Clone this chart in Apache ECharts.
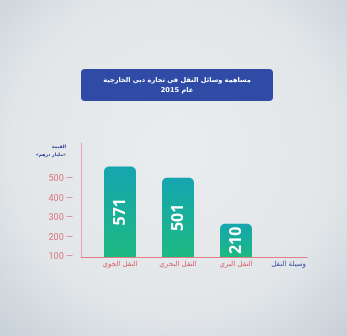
<!DOCTYPE html>
<html>
<head>
<meta charset="utf-8">
<script src="https://cdn.jsdelivr.net/npm/echarts@6/dist/echarts.min.js"></script>
<style>
  html, body { margin: 0; padding: 0; }
  #chart { width: 347px; height: 336px; }
</style>
</head>
<body>
<div id="chart"></div>
<script>
// Dubai foreign trade by mode of transport, 2015 (billion AED)
const categories = ['النقل الجوي', 'النقل البحري', 'النقل البري'];
const values = [571, 501, 210];
const titleLines = ['مساهمة وسائل النقل في تجارة دبي الخارجية', 'عام 2015'];
const yNameLines = ['القيمة', '«مليار درهم»'];
const xName = 'وسيلة النقل';

const AR_FONT = '"DejaVu Sans", sans-serif';
const RED = '#e07e84';
const LABEL_RED = '#d65c68';
const NAVY = '#2d3f8f';

const chart = echarts.init(document.getElementById('chart'), null, { renderer: 'canvas' });

chart.setOption({
  animation: false,
  backgroundColor: {
    type: 'radial', x: 0.5, y: 0.45, r: 0.8,
    colorStops: [
      { offset: 0, color: '#eaedef' },
      { offset: 0.6, color: '#e2e6e9' },
      { offset: 1, color: '#c3ccd4' }
    ]
  },
  graphic: [
    {
      type: 'rect',
      shape: { x: 81, y: 69, width: 192, height: 32, r: 4 },
      style: { fill: '#2f4ba6' }
    },
    {
      type: 'text',
      x: 177, y: 85.5,
      style: {
        text: titleLines.join('\n'),
        fill: '#ffffff',
        font: 'bold 6.6px ' + AR_FONT,
        lineHeight: 10,
        align: 'center',
        verticalAlign: 'middle'
      }
    },
    {
      type: 'text',
      x: 66, y: 151,
      style: {
        text: yNameLines.join('\n'),
        fill: NAVY,
        font: 'bold 4.6px ' + AR_FONT,
        lineHeight: 8,
        align: 'right',
        verticalAlign: 'middle'
      }
    }
  ],
  grid: [
    { left: 81, right: 40, top: 143, bottom: 79 },
    { left: 91, width: 174, top: 143, bottom: 79 }
  ],
  xAxis: [
    {
      gridIndex: 0, type: 'value', min: 0, max: 1,
      axisLine: { show: true, lineStyle: { color: RED, width: 1 } },
      axisTick: { show: false }, axisLabel: { show: false }, splitLine: { show: false },
      name: xName, nameLocation: 'end', nameGap: -1,
      nameTextStyle: {
        color: '#3a50a0', fontFamily: AR_FONT, fontSize: 7,
        align: 'right', verticalAlign: 'top', padding: [4, 0, 0, 0]
      }
    },
    {
      gridIndex: 1, type: 'category', data: categories,
      axisLine: { show: false }, axisTick: { show: false }, splitLine: { show: false },
      axisLabel: { color: LABEL_RED, fontFamily: AR_FONT, fontSize: 7, margin: 4 }
    }
  ],
  yAxis: [
    {
      gridIndex: 0, type: 'value', min: 100, max: 685, interval: 100,
      axisLine: { show: true, lineStyle: { color: '#e9a3aa', width: 1 } },
      axisTick: { show: false }, splitLine: { show: false },
      axisLabel: {
        color: '#d9767c', fontSize: 9, fontFamily: 'Roboto, sans-serif', margin: 8,
        formatter: v => (v <= 500 ? v + ' —' : '')
      }
    },
    { gridIndex: 1, type: 'value', min: 0, max: 720, show: false }
  ],
  series: [
    {
      type: 'bar',
      xAxisIndex: 1, yAxisIndex: 1,
      data: values,
      barWidth: 32,
      itemStyle: {
        borderRadius: [5, 5, 0, 0],
        color: {
          type: 'linear', x: 0, y: 0, x2: 0, y2: 1,
          colorStops: [
            { offset: 0, color: '#16a5b0' },
            { offset: 1, color: '#1db982' }
          ]
        }
      },
      label: {
        show: true, position: 'inside', rotate: 90,
        color: '#ffffff', fontSize: 16, fontWeight: 'bold',
        fontFamily: '"Open Sans", sans-serif'
      }
    }
  ]
});
</script>
</body>
</html>
